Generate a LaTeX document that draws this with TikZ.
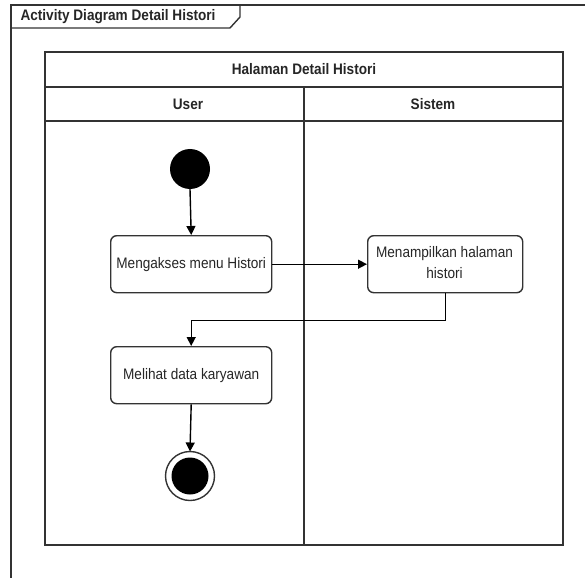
\documentclass[tikz,border=0pt]{standalone}
\usepackage{fontspec}
\setmainfont{Liberation Sans}
\usetikzlibrary{arrows.meta}
\definecolor{linegray}{HTML}{333333}
% labels are set slightly taller than wide
\newcommand\tallbox[1]{\scalebox{1}[1.12]{#1}}
\begin{document}
\begin{tikzpicture}[x=1pt,y=-1pt,
  every node/.style={font=\fontsize{13.6}{15}\selectfont, text=black!85},
  frameline/.style={draw=linegray, line width=1.4pt},
  action/.style={draw=linegray, line width=1.4pt, rounded corners=6pt, fill=white,
    minimum width=161pt, minimum height=57pt, inner sep=2pt, align=center, anchor=north west},
  flow/.style={draw=black, line width=1.4pt, -{Triangle[length=9pt,width=9pt]}},
  hdr/.style={font=\bfseries\fontsize{13.6}{15}\selectfont}]
  \useasboundingbox (0,0) rectangle (585,577);
  \fill[white] (0,0) rectangle (585,577);

  % outer diagram frame with its name tag
  \begin{scope}
    \clip (0,0) rectangle (585,577);
    \draw[frameline] (11,600) -- (11,5) -- (600,5);
    \draw[frameline] (11,28) -- (230,28) -- (240,17) -- (240,5);
  \end{scope}
  \node[hdr, anchor=west] (frametitle) at (17,16.5) {\tallbox{Activity Diagram Detail Histori}};

  % swimlane pool
  \draw[frameline] (45,52) rectangle (563,545);
  \draw[frameline] (45,87) -- (563,87);
  \draw[frameline] (45,121) -- (563,121);
  \draw[frameline] (304,87) -- (304,545);
  \node[hdr] (pooltitle) at (304,69.5) {\tallbox{Halaman Detail Histori}};
  \node[hdr] (laneuser) at (188,104) {\tallbox{User}};
  \node[hdr] (lanesys) at (433,104) {\tallbox{Sistem}};

  % start and end states
  \fill[black] (190,169) circle (20);
  \coordinate (startbottom) at (190,189);
  \draw[linegray, line width=1.4pt, fill=white] (190,476) circle (24.5);
  \fill[black] (190,476) circle (18.5);
  \coordinate (endtop) at (190,451.5);

  % actions
  \node[action] (akses) at (110,235) {\tallbox{Mengakses menu Histori}};
  \node[action, minimum width=155pt] (tampil) at (367,235) {};
  \node (tampil1) at (444.5,254) {\tallbox{Menampilkan halaman}};
  \node (tampil2) at (444.5,273) {\tallbox{histori}};
  \node[action] (lihat) at (110,346) {\tallbox{Melihat data karyawan}};

  % control flow
  \draw[flow] (startbottom) -- (akses.north);
  \draw[flow] (akses.east) -- (tampil.west);
  \draw[flow] (tampil.south) -- ++(0,27) -| (lihat.north);
  \draw[flow] (lihat.south) -- (endtop);
\end{tikzpicture}
\end{document}
